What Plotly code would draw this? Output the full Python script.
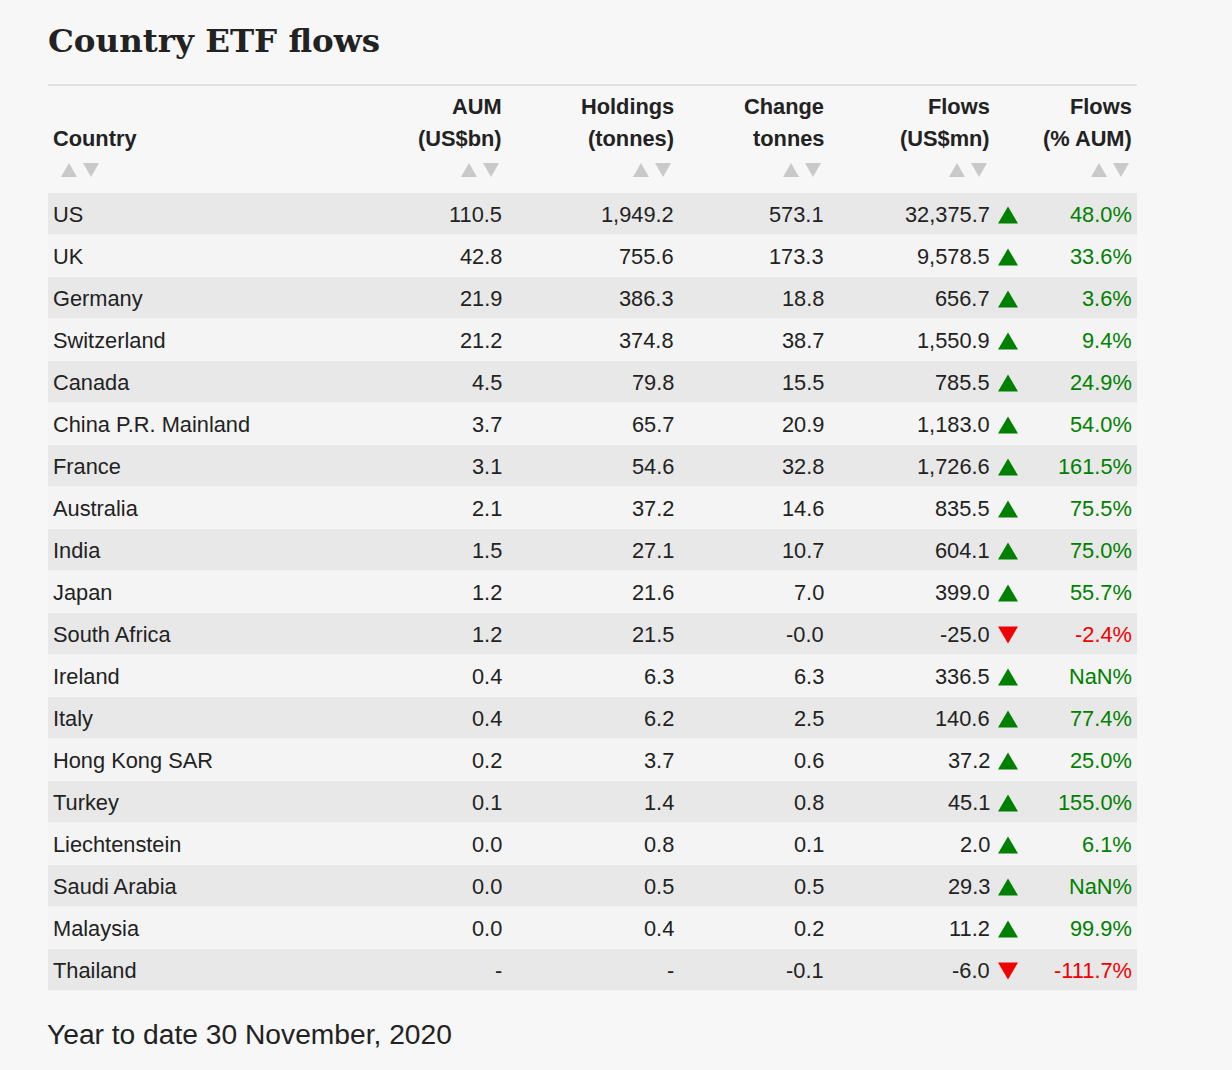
import math
import plotly.graph_objects as go

# ---------------- data ----------------
title = "Country ETF flows"
footer = "Year to date 30 November, 2020"
headers = [["", "Country"], ["AUM", "(US$bn)"], ["Holdings", "(tonnes)"],
           ["Change", "tonnes"], ["Flows", "(US$mn)"], ["Flows", "(% AUM)"]]

countries = ["US", "UK", "Germany", "Switzerland", "Canada", "China P.R. Mainland",
             "France", "Australia", "India", "Japan", "South Africa", "Ireland",
             "Italy", "Hong Kong SAR", "Turkey", "Liechtenstein", "Saudi Arabia",
             "Malaysia", "Thailand"]
aum = [110.5, 42.8, 21.9, 21.2, 4.5, 3.7, 3.1, 2.1, 1.5, 1.2, 1.2, 0.4, 0.4, 0.2,
       0.1, 0.0, 0.0, 0.0, None]
holdings = [1949.2, 755.6, 386.3, 374.8, 79.8, 65.7, 54.6, 37.2, 27.1, 21.6, 21.5,
            6.3, 6.2, 3.7, 1.4, 0.8, 0.5, 0.4, None]
change = [573.1, 173.3, 18.8, 38.7, 15.5, 20.9, 32.8, 14.6, 10.7, 7.0, -0.0, 6.3,
          2.5, 0.6, 0.8, 0.1, 0.5, 0.2, -0.1]
flows = [32375.7, 9578.5, 656.7, 1550.9, 785.5, 1183.0, 1726.6, 835.5, 604.1,
         399.0, -25.0, 336.5, 140.6, 37.2, 45.1, 2.0, 29.3, 11.2, -6.0]
flows_pct = [48.0, 33.6, 3.6, 9.4, 24.9, 54.0, 161.5, 75.5, 75.0, 55.7, -2.4,
             float("nan"), 77.4, 25.0, 155.0, 6.1, float("nan"), 99.9, -111.7]

# ---------------- layout constants ----------------
W, H = 1232, 1070
BG = "#f7f7f7"
ROW_DARK = "#e8e8e8"
ROW_LIGHT = "#f4f4f4"
TXT = "#222222"
GREEN = "#008000"
RED = "#f00000"
ARROW = "#c9c9c9"
FONT = "Liberation Sans, Arial, sans-serif"
FS = 21.8

TABLE_L, TABLE_R = 48, 1137
ROW0, ROW_H = 193, 42
COUNTRY_X = 53
COL_RIGHT = [501, 673, 823, 989, 1131]
TRI_X = 1008


def fmt(v):
    if v is None:
        return "-"
    return f"{v:,.1f}"


def fmt_pct(v):
    if v is None or (isinstance(v, float) and math.isnan(v)):
        return "NaN%"
    return f"{v:.1f}%"


def row_center(i):
    return ROW0 + ROW_H * i + ROW_H / 2


def tri_path(cx, cy, w, h, up=True):
    if up:
        return f"M {cx - w / 2},{cy + h / 2} L {cx + w / 2},{cy + h / 2} L {cx},{cy - h / 2} Z"
    return f"M {cx - w / 2},{cy - h / 2} L {cx + w / 2},{cy - h / 2} L {cx},{cy + h / 2} Z"


fig = go.Figure()
shapes = []
ann = []

# top rule
shapes.append(dict(type="line", xref="x", yref="y", x0=TABLE_L, x1=TABLE_R,
                   y0=85, y1=85, line=dict(color="#e2e2e2", width=2)))

# row bands
for i in range(len(countries)):
    shapes.append(dict(type="rect", xref="x", yref="y", x0=TABLE_L, x1=TABLE_R,
                       y0=ROW0 + ROW_H * i, y1=ROW0 + ROW_H * (i + 1),
                       fillcolor=ROW_DARK if i % 2 == 0 else ROW_LIGHT,
                       line=dict(width=0), layer="below"))
    shapes.append(dict(type="line", xref="x", yref="y", x0=TABLE_L, x1=TABLE_R,
                       y0=ROW0 + ROW_H * (i + 1), y1=ROW0 + ROW_H * (i + 1),
                       line=dict(color="#fbfbfb", width=1), layer="below"))

# title & footer
ann.append(dict(x=TABLE_L - 2, y=40, xref="x", yref="y", text=f"<b>{title}</b>",
                xanchor="left", yanchor="middle", showarrow=False,
                font=dict(family="DejaVu Serif, serif", size=32.5, color=TXT)))
ann.append(dict(x=TABLE_L - 3, y=1034, xref="x", yref="y", text=footer,
                xanchor="left", yanchor="middle", showarrow=False,
                font=dict(family=FONT, size=28.2, color=TXT)))

# headers
hfont = dict(family=FONT, size=FS, color=TXT)
ann.append(dict(x=COUNTRY_X - 2, y=138, xref="x", yref="y", text="<b>Country</b>",
                xanchor="left", yanchor="middle", showarrow=False, font=hfont))
for j, (l1, l2) in enumerate(headers[1:]):
    xr = COL_RIGHT[j] + 3
    ann.append(dict(x=xr, y=106, xref="x", yref="y", text=f"<b>{l1}</b>",
                    xanchor="right", yanchor="middle", showarrow=False, font=hfont))
    ann.append(dict(x=xr, y=138, xref="x", yref="y", text=f"<b>{l2}</b>",
                    xanchor="right", yanchor="middle", showarrow=False, font=hfont))

# header sort arrows
arrow_up_x = [69] + [r - 32 for r in COL_RIGHT]
arrow_dn_x = [91] + [r - 10 for r in COL_RIGHT]
for x in arrow_up_x:
    shapes.append(dict(type="path", xref="x", yref="y", path=tri_path(x, 170, 16, 14, True),
                       fillcolor=ARROW, line=dict(width=0)))
for x in arrow_dn_x:
    shapes.append(dict(type="path", xref="x", yref="y", path=tri_path(x, 170, 16, 14, False),
                       fillcolor=ARROW, line=dict(width=0)))

# body
bfont = dict(family=FONT, size=FS, color=TXT)
for i, c in enumerate(countries):
    yc = row_center(i)
    ann.append(dict(x=COUNTRY_X - 2, y=yc, xref="x", yref="y", text=c,
                    xanchor="left", yanchor="middle", showarrow=False, font=bfont))
    vals = [fmt(aum[i]), fmt(holdings[i]), fmt(change[i]), fmt(flows[i])]
    for j, t in enumerate(vals):
        ann.append(dict(x=COL_RIGHT[j] + 3, y=yc, xref="x", yref="y", text=t,
                        xanchor="right", yanchor="middle", showarrow=False,
                        font=bfont))
    up = flows[i] >= 0
    col = GREEN if up else RED
    ann.append(dict(x=COL_RIGHT[4] + 3, y=yc, xref="x", yref="y",
                    text=fmt_pct(flows_pct[i]), xanchor="right", yanchor="middle",
                    showarrow=False, font=dict(family=FONT, size=FS, color=col)))
    # flow direction triangle
    shapes.append(dict(type="path", xref="x", yref="y",
                       path=tri_path(TRI_X, yc + 1, 20, 17, up),
                       fillcolor=col, line=dict(width=0)))

fig.update_layout(
    width=W, height=H, margin=dict(l=0, r=0, t=0, b=0),
    paper_bgcolor=BG, plot_bgcolor=BG,
    xaxis=dict(range=[0, W], visible=False, fixedrange=True),
    yaxis=dict(range=[H, 0], visible=False, fixedrange=True),
    shapes=shapes, annotations=ann, showlegend=False,
)

fig.write_html(
    "out.html",
    config={"displayModeBar": False, "staticPlot": True},
    post_script="document.body.style.margin='0';document.body.style.background='#f7f7f7';",
)
